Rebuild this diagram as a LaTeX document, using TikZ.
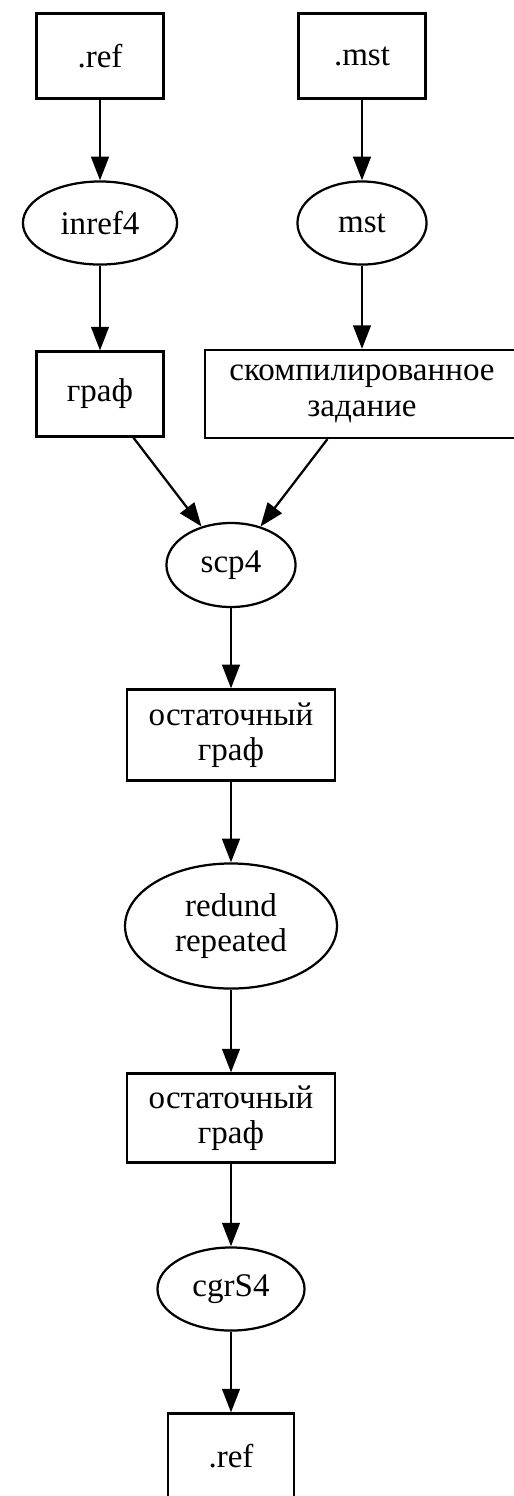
\documentclass[tikz,border=0pt]{standalone}
\usepackage{fontspec}
\setmainfont{Liberation Serif}
\usetikzlibrary{arrows.meta,shapes.geometric,positioning}

\begin{document}
\begin{tikzpicture}[x=0.4237pt,y=-0.4237pt,
	box/.style={draw, rectangle, line width=0.95pt, inner sep=0pt, minimum width=53.8pt, minimum height=36pt, align=center, font=\fontsize{14}{15}\selectfont},
	prog/.style={draw, ellipse, line width=0.95pt, inner sep=0pt, minimum height=35.2pt, align=center, font=\fontsize{14}{15}\selectfont},
	flow/.style={-{Triangle[length=10pt,width=7.5pt]}, line width=0.95pt}]
	\useasboundingbox (0,0) rectangle (514,1496);
	
	\node[box] (ref) at (100,56) {.ref};
	\node[box] (mstfile) at (362,56) {.mst};
	\node[prog, minimum width=65.3pt] (inref) at (100,223) {inref4};
	\node[prog, minimum width=54.7pt] (mst) at (362,223) {mst};
	\node[box] (graph) at (100,394) {граф};
	\node[box, minimum width=133pt, minimum height=37.3pt] (task) at (362,394) {скомпилированное\\задание};
	
	\node[prog, minimum width=54.7pt, minimum height=35.6pt] (scp) at (231,565) {scp4};
	\node[box, minimum width=88pt, minimum height=38.6pt] (rest) at (231,735) {остаточный\\граф};
	\node[prog, minimum width=89.8pt, minimum height=53pt] (redund) at (231,926) {redund\\repeated};
	\node[box, minimum width=88pt, minimum height=37.7pt] (rest2) at (231,1118) {остаточный\\граф};
	\node[prog, minimum width=62.3pt] (cgr) at (231,1289) {cgrS4};
	\node[box, minimum width=53.4pt] (out) at (231,1456) {.ref};
	
	\draw[flow] (ref) -- (inref);
	\draw[flow] (inref) -- (graph);
	\draw[flow] (mstfile) -- (mst);
	\draw[flow] (mst) -- (task);
	\draw[flow] (graph) -- (scp);
	\draw[flow] (task) -- (scp);
	\draw[flow] (scp) -- (rest);
	\draw[flow] (rest) -- (redund);
	\draw[flow] (redund) -- (rest2);
	\draw[flow] (rest2) -- (cgr);
	\draw[flow] (cgr) -- (out);
\end{tikzpicture}
\end{document}
